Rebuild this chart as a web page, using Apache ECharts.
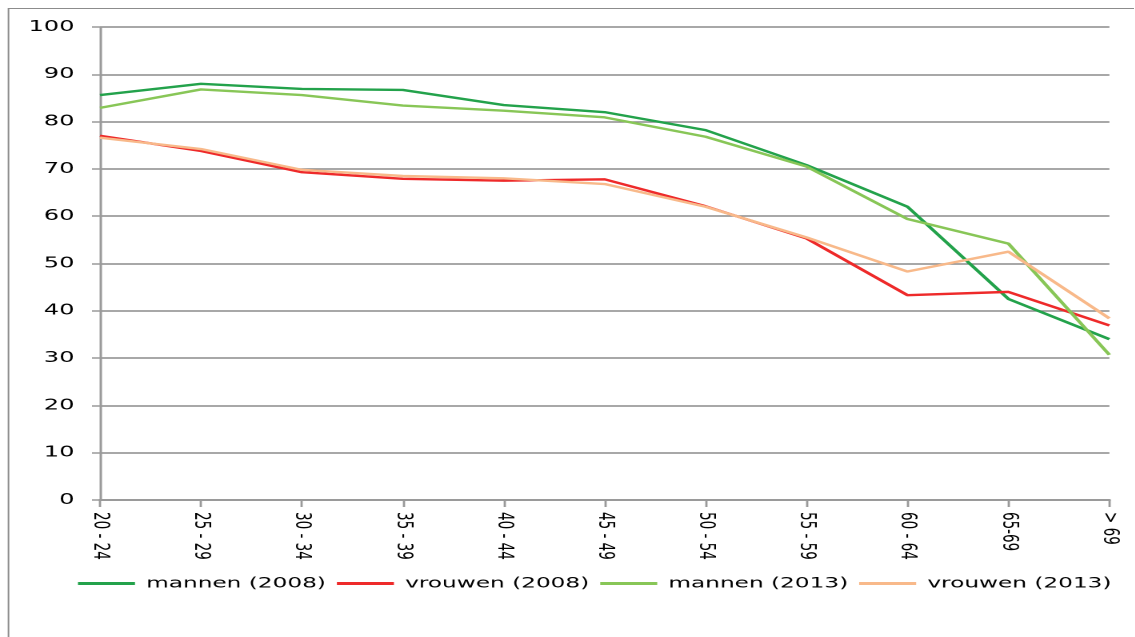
<!DOCTYPE html>
<html><head><meta charset="utf-8">
<script src="https://cdn.jsdelivr.net/npm/echarts@6/dist/echarts.min.js"></script>
<style>
html,body{margin:0;padding:0;background:#fff;overflow:hidden;width:1135px;height:637px}
#c{width:709.375px;height:637px;transform:scaleX(1.6);transform-origin:0 0}
</style>
</head><body><div id="c"></div>
<script>
var categories = ['20 - 24','25 - 29','30 - 34','35 - 39','40 - 44','45 - 49','50 - 54','55 - 59','60 - 64','65-69','> 69'];
var mannen2008 = [85.6, 88.0, 86.9, 86.7, 83.5, 82.0, 78.2, 70.8, 62.0, 42.5, 34.0];
var vrouwen2008 = [77.0, 73.8, 69.3, 67.9, 67.5, 67.8, 62.1, 55.3, 43.3, 44.0, 36.9];
var mannen2013 = [82.9, 86.8, 85.6, 83.4, 82.3, 80.9, 76.8, 70.5, 59.4, 54.2, 30.7];
var vrouwen2013 = [76.6, 74.2, 69.8, 68.5, 68.0, 66.8, 62.0, 55.5, 48.3, 52.5, 38.4];
var seriesNames = ['mannen (2008)', 'vrouwen (2008)', 'mannen (2013)', 'vrouwen (2013)'];
var yTicks = {min: 0, max: 100, interval: 10};

// The reference is horizontally stretched; the whole chart is drawn narrower and widened by CSS.
var SX = 1.6;
var chart = echarts.init(document.getElementById('c'), null, {devicePixelRatio: 2});
var font = 'DejaVu Sans';
function s(name, data, color) {
  return {name: name, type: 'line', data: data, symbol: 'none', smooth: false,
    lineStyle: {color: color, width: 2.4}, itemStyle: {color: color}};
}
chart.setOption({
  animation: false,
  backgroundColor: '#fff',
  graphic: [{type: 'rect', shape: {x: 8.5 / SX, y: 8.5, width: 1140 / SX, height: 640},
    style: {fill: 'none', stroke: '#8c8c8c', lineWidth: 1}, silent: true}],
  grid: {left: 100 / SX, right: 25 / SX, top: 27, bottom: 137, containLabel: false},
  legend: {
    top: 576, left: 78 / SX, width: 1100 / SX, padding: 0,
    itemWidth: 57 / SX, itemHeight: 3, itemGap: 11 / SX,
    icon: 'rect',
    textStyle: {fontFamily: font, fontSize: 14.5, color: '#000', padding: [0, 0, 0, 2]},
    data: seriesNames
  },
  xAxis: {
    type: 'category', data: categories, boundaryGap: false,
    axisLine: {lineStyle: {color: '#9a9a9a', width: 2}},
    axisTick: {show: true, alignWithLabel: true, length: 7, lineStyle: {color: '#9a9a9a', width: 1.4}},
    axisLabel: {rotate: -90, margin: 12, fontFamily: font, fontSize: 13.5, color: '#000', interval: 0},
    splitLine: {show: false}
  },
  yAxis: {
    type: 'value', min: yTicks.min, max: yTicks.max, interval: yTicks.interval,
    axisLine: {show: true, lineStyle: {color: '#9a9a9a', width: 1.5}},
    axisTick: {show: true, length: 8 / SX, lineStyle: {color: '#9a9a9a', width: 1.5}},
    axisLabel: {margin: 16, fontFamily: font, fontSize: 15, color: '#000'},
    splitLine: {show: true, lineStyle: {color: '#8c8c8c', width: 1.5}}
  },
  series: [
    s(seriesNames[0], mannen2008, '#23a24b'),
    s(seriesNames[1], vrouwen2008, '#ee2a2a'),
    s(seriesNames[2], mannen2013, '#88c657'),
    s(seriesNames[3], vrouwen2013, '#f8b98a')
  ]
});
</script></body></html>
